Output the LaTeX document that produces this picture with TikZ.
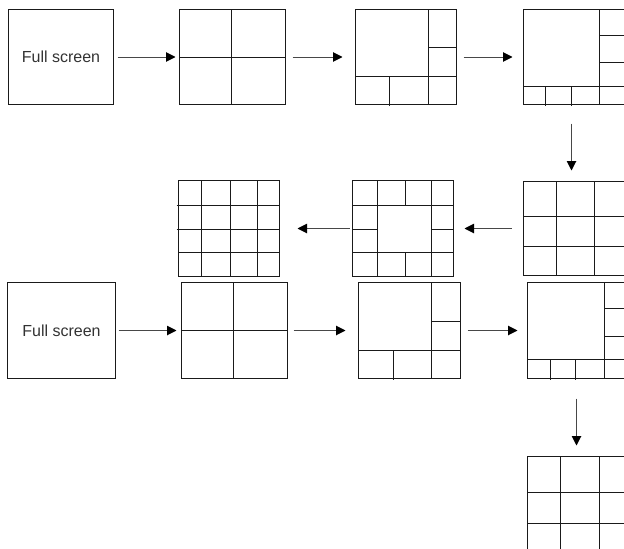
\documentclass[tikz,border=0pt]{standalone}
\usepackage{fontspec}
\setmainfont{Liberation Sans}
\usetikzlibrary{arrows.meta}
\definecolor{ln}{HTML}{1a1a1a}
\definecolor{txt}{HTML}{333333}
\begin{document}
\begin{tikzpicture}[x=1pt,y=-1pt,
  scr/.style={draw=ln,line width=1pt,inner sep=0pt,outer sep=0pt,anchor=north west,fill=none},
  div/.style={draw=ln,line width=1pt},
  flow/.style={draw=ln!80,line width=1pt,-{Triangle[length=9.5pt,width=9.5pt,color=black,fill=black]}},
  lbl/.style={font=\fontsize{16}{19}\selectfont,text=txt}]
\useasboundingbox (0,0) rectangle (624,549);
\clip (0,0) rectangle (624,549);
\begin{scope}[shift={(0.5,0.5)}]
% Row 1
\node[scr,minimum width=105pt,minimum height=95pt] (A) at (8,9) {};
\node[lbl] (At) at (A.center) {Full screen};
\node[scr,minimum width=106pt,minimum height=95pt] (B) at (179,9) {};
\node[scr,minimum width=101pt,minimum height=95pt] (C) at (355,9) {};
\node[scr,minimum width=105pt,minimum height=95pt] (D) at (523,9) {};
% B dividers
\draw[div] (231,9) -- (231,104);
\draw[div] (179,57) -- (285,57);
% C dividers
\draw[div] (428,9) -- (428,104);
\draw[div] (428,47) -- (456,47);
\draw[div] (355,76) -- (456,76);
\draw[div] (389,76) -- (389,105);
% D dividers
\draw[div] (599,9) -- (599,104);
\draw[div] (599,35) -- (628,35);
\draw[div] (599,62) -- (628,62);
\draw[div] (523,86) -- (628,86);
\draw[div] (545,86) -- (545,105);
\draw[div] (571,86) -- (571,105);
% Row 2
\node[scr,minimum width=105pt,minimum height=94pt] (E) at (523,181) {};
\draw[div] (556,181) -- (556,275);
\draw[div] (594,181) -- (594,275);
\draw[div] (523,216) -- (628,216);
\draw[div] (523,246) -- (628,246);
\node[scr,minimum width=101pt,minimum height=96pt] (F) at (352,180) {};
\draw[div] (352,205) -- (453,205);
\draw[div] (352,252) -- (453,252);
\draw[div] (377,180) -- (377,276);
\draw[div] (431,180) -- (431,276);
\draw[div] (405,180) -- (405,205);
\draw[div] (405,252) -- (405,276);
\draw[div] (352,229) -- (377,229);
\draw[div] (431,229) -- (453,229);
\node[scr,minimum width=101pt,minimum height=96pt] (G) at (178,180) {};
\draw[div] (201,180) -- (201,276);
\draw[div] (230,180) -- (230,276);
\draw[div] (257,180) -- (257,276);
\draw[div] (176,205) -- (279,205);
\draw[div] (176,229) -- (279,229);
\draw[div] (178,252) -- (279,252);
% Row 3
\node[scr,minimum width=108pt,minimum height=96pt] (H) at (7,282) {};
\node[lbl] (Ht) at (H.center) {Full screen};
\node[scr,minimum width=106pt,minimum height=96pt] (I) at (181,282) {};
\draw[div] (233,282) -- (233,378);
\draw[div] (181,330) -- (287,330);
\node[scr,minimum width=102pt,minimum height=96pt] (J) at (358,282) {};
\draw[div] (431,282) -- (431,378);
\draw[div] (431,321) -- (460,321);
\draw[div] (358,350) -- (460,350);
\draw[div] (393,350) -- (393,379);
\node[scr,minimum width=105pt,minimum height=96pt] (K) at (527,282) {};
\draw[div] (604,282) -- (604,378);
\draw[div] (604,308) -- (632,308);
\draw[div] (604,336) -- (632,336);
\draw[div] (527,359) -- (632,359);
\draw[div] (550,359) -- (550,379);
\draw[div] (575,359) -- (575,379);
% Row 4
\node[scr,minimum width=105pt,minimum height=100pt] (L) at (527,456) {};
\draw[div] (560,456) -- (560,556);
\draw[div] (599,456) -- (599,556);
\draw[div] (527,492) -- (632,492);
\draw[div] (527,523) -- (632,523);
% Connectors
\draw[flow,shorten <=4pt,shorten >=4pt] (A.east) -- (B.west);
\draw[flow,shorten <=7pt,shorten >=13pt] (B.east) -- (C.west);
\draw[flow,shorten <=7pt,shorten >=11pt] (C.east) -- (D.west);
\draw[flow,shorten <=19pt,shorten >=11pt] ([xshift=-4.5pt]D.south) -- ([xshift=-4.5pt]E.north);
\draw[flow,shorten <=12pt,shorten >=11pt] (E.west) -- (F.east);
\draw[flow,shorten <=3pt,shorten >=18pt] (F.west) -- (G.east);
\draw[flow,shorten <=3pt,shorten >=5pt] (H.east) -- (I.west);
\draw[flow,shorten <=6pt,shorten >=13pt] (I.east) -- (J.west);
\draw[flow,shorten <=7pt,shorten >=10pt] (J.east) -- (K.west);
\draw[flow,shorten <=20pt,shorten >=11pt] ([xshift=-3.5pt]K.south) -- ([xshift=-3.5pt]L.north);
\end{scope}
\end{tikzpicture}
\end{document}
